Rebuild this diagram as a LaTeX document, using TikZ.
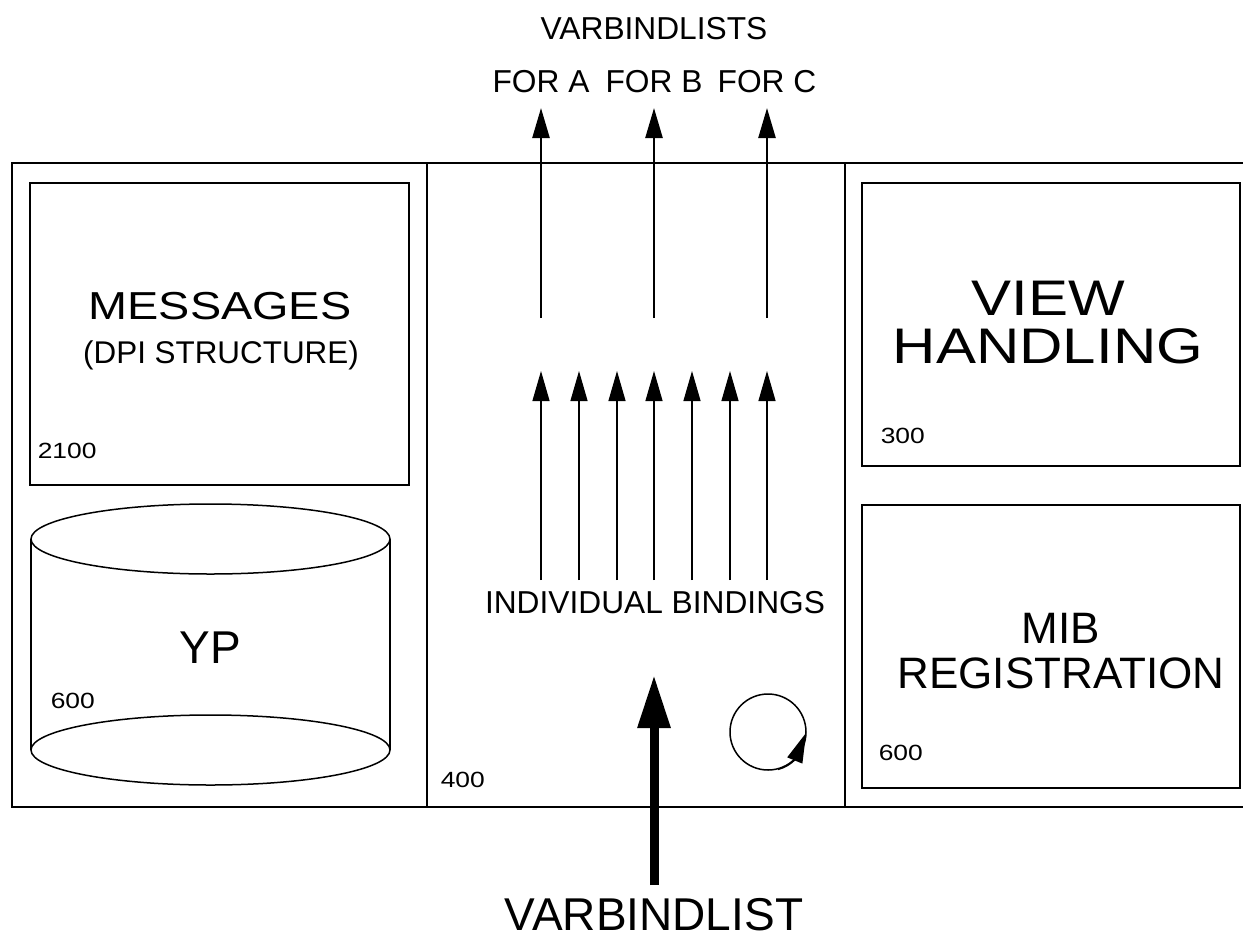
\documentclass[tikz,border=0pt]{standalone}
\usepackage{fontspec}
\setmainfont{Liberation Sans}
\newfontfamily\widefont[FakeStretch=1.2]{Liberation Sans}
\usetikzlibrary{graphs}
\usetikzlibrary{arrows.meta,bending}

\tikzset{
  txt/.style={anchor=base,inner sep=0pt},
  midtext/.style={txt,font=\fontsize{15.85}{19}\selectfont},
  bigtext/.style={txt,font=\fontsize{23}{27}\selectfont},
  numtext/.style={anchor=base west,inner sep=0pt,font=\widefont\fontsize{11}{13}\selectfont},
  bindarrow/.style={line width=0.6pt,>={Triangle[length=15pt,width=8.5pt]}},
  listarrow/.style={line width=1.2pt,>={Triangle[length=15pt,width=8.5pt]}},
  fatarrow/.style={line width=4.5pt,>={Triangle[length=26.5pt,width=15.5pt]}}
}

\begin{document}
\begin{tikzpicture}[x=0.5pt,y=-0.5pt,line width=0.75pt]
  \useasboundingbox (0,0) rectangle (1243,938);
  % outer frame, open to the right
  \draw (1243,163) -- (12,163) -- (12,807) -- (1243,807);
  \draw (427,163) -- (427,807);
  \draw (845,163) -- (845,807);

  % left part
  \draw (30,183) rectangle (409,485);
  \node[txt,font=\widefont\fontsize{19.5}{23}\selectfont] (msg) at (220,319) {MESSAGES};
  \node[txt,font=\fontsize{15.7}{19}\selectfont] (dpi) at (221,363) {(DPI STRUCTURE)};
  \node[numtext] (n2100) at (37,458) {2100};
  \draw (31,539) -- (31,750);
  \draw (390,539) -- (390,750);
  \draw (210.5,539) ellipse [x radius=179.5,y radius=35];
  \draw (210.5,750) ellipse [x radius=179.5,y radius=35];
  \node[bigtext] (yp) at (210,663) {YP};
  \node[numtext] (n600a) at (50,708) {600};

  % right part
  \draw (862,183) rectangle (1240,466);
  \node[txt,font=\widefont\fontsize{25}{29}\selectfont] (view) at (1048,315) {VIEW};
  \node[txt,font=\widefont\fontsize{25}{29}\selectfont] (hand) at (1048,363) {HANDLING};
  \node[numtext] (n300) at (880,443) {300};
  \draw (862,505) rectangle (1240,788);
  \node[txt,font=\fontsize{22}{26}\selectfont] (mib) at (1061,643) {MIB};
  \node[txt,font=\fontsize{22}{26}\selectfont] (reg) at (1061,688) {REGISTRATION};
  \node[numtext] (n600b) at (878,760) {600};

  % middle part
  \node[numtext] (n400) at (440,787) {400};
  \node[midtext] (lists) at (654,39) {VARBINDLISTS};
  \node[midtext] (fora) at (541,92) {FOR A};
  \node[midtext] (forb) at (654,92) {FOR B};
  \node[midtext] (forc) at (767,92) {FOR C};
  \node[midtext] (indiv) at (655,613) {INDIVIDUAL BINDINGS};
  \node[bigtext] (vbl) at (654,930) {VARBINDLIST};

  \foreach \x [count=\i] in {541,579,617,654,692,730,767}{
    \coordinate (bind\i) at (\x,580);
    \coordinate (bindtip\i) at (\x,371);
    \draw[bindarrow,->] (bind\i) -- (bindtip\i);
  }
  \foreach \x/\n in {541/a,654/b,767/c}{
    \coordinate (list\n) at (\x,318);
    \coordinate (listtip\n) at (\x,108);
    \draw[listarrow,->] (list\n) -- (listtip\n);
  }
  \coordinate (vin) at (654,885);
  \coordinate (vtip) at (654,675);
  \graph[edges=fatarrow]{(vin) -> (vtip)};

  % turning wheel
  \node[draw,circle,minimum size=38pt,inner sep=0pt] (wheel) at (768,732) {};
  \draw[-{Triangle[length=15pt,width=8pt,flex]}] (wheel.-75) arc[start angle=-75,end angle=0,radius=19pt];
\end{tikzpicture}
\end{document}
